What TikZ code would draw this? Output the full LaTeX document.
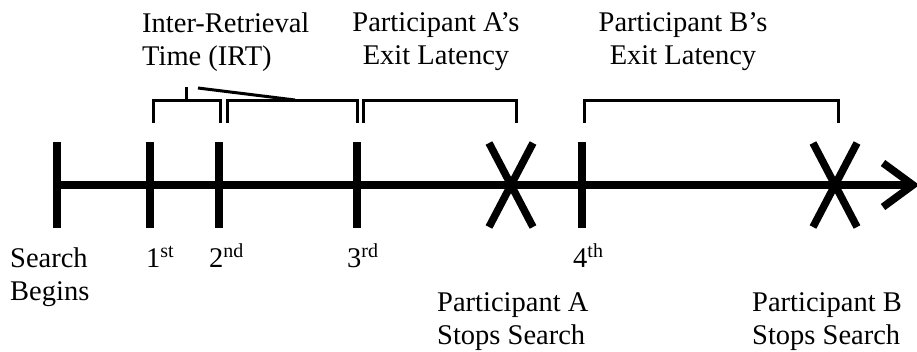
\documentclass[tikz,border=0pt]{standalone}
\usepackage{fontspec}
\setmainfont{Liberation Serif}
\begin{document}
\begin{tikzpicture}[x=1pt,y=-1pt,
  axis/.style={line width=7.5pt, line cap=butt},
  brk/.style={line width=3pt, line join=miter},
  lbl/.style={font=\fontsize{28.5}{33}\selectfont, inner sep=0pt},
  ord/.style={font=\fontsize{28.5}{33}\selectfont, inner sep=0pt, anchor=base west}]
\useasboundingbox (0,0) rectangle (917,351);

% positions on the time line
\coordinate (t0) at (57,185);
\coordinate (t1) at (150,185);
\coordinate (t2) at (219,185);
\coordinate (t3) at (357,185);
\coordinate (xa) at (511,185);
\coordinate (t4) at (582,185);
\coordinate (xb) at (835,185);
\coordinate (tip) at (913,185);

% main line and tick marks
\draw[axis] (t0) -- (tip);
\foreach \t in {t0,t1,t2,t3,t4}
  \draw[axis] ([yshift=-43pt]\t) -- ([yshift=43pt]\t);
% stop marks
\foreach \s in {xa,xb}{
  \draw[axis] ([shift={(-22,-42)}]\s) -- ([shift={(22,42)}]\s);
  \draw[axis] ([shift={(22,-42)}]\s) -- ([shift={(-22,42)}]\s);
}
% open arrow head
\draw[axis, line join=miter] ([shift={(-30,-22)}]tip) -- (tip) -- ([shift={(-30,22)}]tip);

% brackets
\draw[brk] (153,123) -- (153,100) -- (220,100) -- (220,123);
\draw[brk] (186,100) -- (186,87);
\draw[brk] (227,123) -- (227,100) -- (357,100) -- (357,123);
\draw[brk] (198,88) -- (295,100);
\draw[brk] (363,123) -- (363,100) -- (516,100) -- (516,123);
\draw[brk] (584,123) -- (584,100) -- (838,100) -- (838,123);

% labels above
\node[lbl, anchor=north west, align=left] (irt) at (142,12.5) {Inter-Retrieval\\Time (IRT)};
\node[lbl, anchor=north, align=center] (exa) at (436,12.5) {Participant A’s\\Exit Latency};
\node[lbl, anchor=north, align=center] (exb) at (683,12.5) {Participant B’s\\Exit Latency};

% labels below
\node[lbl, anchor=north west, align=left] (beg) at (10,247.5) {Search\\Begins};
\node[ord] (o1) at (146,267) {1\textsuperscript{st}};
\node[ord] (o2) at (209,267) {2\textsuperscript{nd}};
\node[ord] (o3) at (347,267) {3\textsuperscript{rd}};
\node[ord] (o4) at (573,267) {4\textsuperscript{th}};
\node[lbl, anchor=north west, align=left] (sa) at (437,292.5) {Participant A\\Stops Search};
\node[lbl, anchor=north west, align=left] (sb) at (752,292.5) {Participant B\\Stops Search};
\end{tikzpicture}
\end{document}
